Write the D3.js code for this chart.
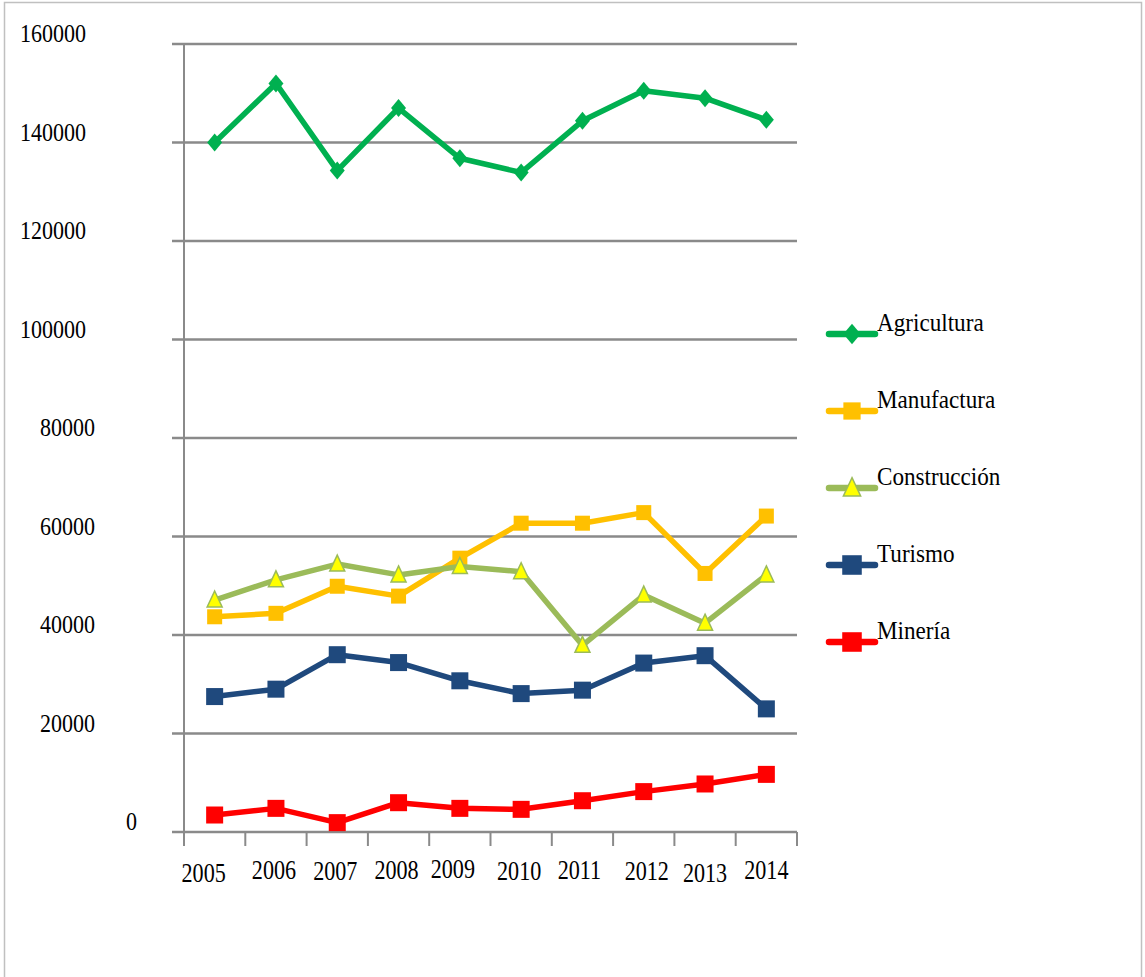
<!DOCTYPE html>
<html>
<head>
<meta charset="utf-8">
<script src="https://cdn.jsdelivr.net/npm/d3@7"></script>
<style>
  html, body { margin: 0; padding: 0; background: #ffffff; }
  svg { display: block; }
  text { font-family: "Liberation Serif", "Times New Roman", serif; fill: #000; }
</style>
</head>
<body>
<svg id="chart" width="1145" height="977"></svg>
<script>
// ---- Data ----
const years = ["2005","2006","2007","2008","2009","2010","2011","2012","2013","2014"];
const seriesNames = ["Agricultura","Manufactura","Construcción","Turismo","Minería"];
const agricultura  = [140000,152000,134300,147000,136800,133900,144400,150500,149000,144600];
const manufactura  = [43700,44400,49900,47900,55600,62700,62700,64850,52500,64150];
const construccion = [47100,51200,54400,52200,53900,52850,37900,48100,42400,52200];
const turismo      = [27500,29000,36000,34400,30700,28100,28800,34300,35800,25000];
const mineria      = [3450,4800,1900,5950,4800,4600,6350,8200,9750,11700];
const yTicks = [0,20000,40000,60000,80000,100000,120000,140000,160000];

const seriesValues = [agricultura, manufactura, construccion, turismo, mineria];
const colors = ["#00b050","#ffc000","#9bbb59","#1f497d","#ff0000"];
const markers = ["diamond","square","triangle","square","square"];

// ---- Layout ----
const svg = d3.select("#chart");
const plotLeft = 184, plotRight = 797, plotTop = 44, plotBottom = 832;
const gridLeft = 172;

const x = d3.scaleBand().domain(years).range([plotLeft, plotRight]).padding(0);
const y = d3.scaleLinear().domain([0,160000]).range([plotBottom, plotTop]);

// frame
svg.append("rect").attr("x",4.5).attr("y",2.5).attr("width",1137).attr("height",990)
  .attr("fill","none").attr("stroke","#c0c0c0").attr("stroke-width",1.5);

// gridlines
const gridG = svg.append("g");
gridG.selectAll("line").data(yTicks).join("line")
  .attr("x1", gridLeft).attr("x2", plotRight)
  .attr("y1", d => y(d)).attr("y2", d => y(d))
  .attr("stroke", "#8a8a8a").attr("stroke-width", 2.5);

// y axis line
svg.append("line").attr("x1",plotLeft).attr("x2",plotLeft)
  .attr("y1",plotTop).attr("y2",plotBottom+14)
  .attr("stroke","#8a8a8a").attr("stroke-width",2);

// x ticks at band boundaries
const boundaries = years.map(d => x(d)).concat([plotRight]);
svg.append("g").selectAll("line").data(boundaries).join("line")
  .attr("x1", d => d).attr("x2", d => d)
  .attr("y1", plotBottom).attr("y2", plotBottom+14)
  .attr("stroke","#8a8a8a").attr("stroke-width",2);

// y labels (odd alignment in the original: start x depends on label length)
const yLabelStart = {6: 20, 5: 40, 1: 126};
svg.append("g").selectAll("text").data(yTicks).join("text")
  .attr("transform", d => `translate(${yLabelStart[String(d).length]},${y(d)-2}) scale(0.88,1)`)
  .attr("font-size", 25)
  .text(d => String(d));

// x labels
const xLabelDy = [3,0,1,0,-1,1,0,1,3,0];
const xLabelDx = [-11,-2,-2,-2,-7,-2,-3,3,0,0];
svg.append("g").selectAll("text").data(years).join("text")
  .attr("transform", (d,i) => `translate(${x(d)+x.bandwidth()/2+xLabelDx[i]},${879+xLabelDy[i]}) scale(0.82,1)`)
  .attr("text-anchor","middle")
  .attr("font-size", 27)
  .text(d => d);

// marker drawing
function drawMarker(g, type, color, cx, cy, big) {
  const s = big ? 1.15 : 1;
  if (type === "diamond") {
    const w = 7.5*s, h = 9*s;
    g.append("path").attr("d", `M${cx},${cy-h} L${cx+w},${cy} L${cx},${cy+h} L${cx-w},${cy} Z`)
      .attr("fill", color);
  } else if (type === "square") {
    const half = (color === "#ffc000" ? 7.5 : 8.5) * s;
    g.append("rect").attr("x", cx-half).attr("y", cy-half)
      .attr("width", half*2).attr("height", half*2).attr("fill", color);
  } else if (type === "triangle") {
    const w = 7.5*s;
    g.append("path").attr("d", `M${cx},${cy-9*s} L${cx+w},${cy+7*s} L${cx-w},${cy+7*s} Z`)
      .attr("fill", "#ffff00").attr("stroke", color).attr("stroke-width", 1.5);
  }
}

const line = d3.line().x((d,i) => x(years[i]) + x.bandwidth()/2).y(d => y(d));

seriesValues.forEach((vals, si) => {
  const g = svg.append("g");
  g.append("path").datum(vals).attr("d", line)
    .attr("fill","none").attr("stroke", colors[si]).attr("stroke-width", 5.5)
    .attr("stroke-linejoin","round");
  vals.forEach((v, i) => {
    drawMarker(g, markers[si], colors[si], x(years[i]) + x.bandwidth()/2, y(v), false);
  });
});

// legend
const legendX1 = 829, legendX2 = 875, legendY0 = 334, legendStep = 77;
seriesNames.forEach((name, i) => {
  const g = svg.append("g");
  const ly = legendY0 + i*legendStep;
  g.append("line").attr("x1", legendX1).attr("x2", legendX2).attr("y1", ly).attr("y2", ly)
    .attr("stroke", colors[i]).attr("stroke-width", 6.5).attr("stroke-linecap","round");
  drawMarker(g, markers[i], colors[i], (legendX1+legendX2)/2, ly, true);
  g.append("text").attr("transform", `translate(877,${ly-3.5}) scale(0.89,1)`)
    .attr("font-size", 26).text(name);
});
</script>
</body>
</html>
